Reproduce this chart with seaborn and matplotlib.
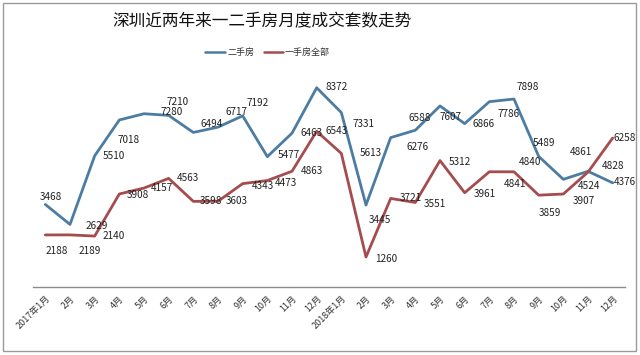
import matplotlib
matplotlib.use("Agg")
import matplotlib.pyplot as plt
import seaborn as sns
import pandas as pd
from matplotlib.patches import Rectangle

months = ["2017年1月", "2月", "3月", "4月", "5月", "6月", "7月", "8月", "9月", "10月", "11月", "12月",
          "2018年1月", "2月", "3月", "4月", "5月", "6月", "7月", "8月", "9月", "10月", "11月", "12月"]
second_hand = [3468, 2629, 5510, 7018, 7280, 7210, 6494, 6717, 7192, 5477, 6463, 8372,
               7331, 3445, 6276, 6588, 7607, 6866, 7786, 7898, 5489, 4524, 4861, 4376]
new_all = [2188, 2189, 2140, 3908, 4157, 4563, 3598, 3603, 4343, 4473, 4863, 6543,
           5613, 1260, 3721, 3551, 5312, 3961, 4841, 4840, 3859, 3907, 4828, 6258]
series_names = ["二手房", "一手房全部"]

# label offsets in pixels (dx, dy up)
blue_off = [(6, 7), (27, -2), (19, 0), (9, -20), (28, 2), (9, 13), (18, 8), (19, 15), (15, 13), (21, 2),
            (20, 0), (20, 1), (22, -11), (14, -15), (27, -9), (4, 12), (11, -11), (19, 0), (19, -12),
            (14, 12), (5, 13), (26, -7), (-7, 19), (12, 1)]
red_off = [(11, -16), (20, -16), (19, 0), (19, -1), (18, 0), (19, 0), (18, 0), (19, 0), (20, -2), (19, -2),
           (20, 0), (20, 0), (29, 0), (20, -2), (20, 0), (20, -2), (20, -1), (20, -1), (26, -12),
           (16, 10), (11, -18), (20, -7), (25, 6), (12, 0)]

sns.set_style("white")
plt.rcParams["font.family"] = ["Noto Sans CJK SC", "DejaVu Sans"]

df = pd.DataFrame({
    "x": list(range(len(months))) * 2,
    "v": second_hand + new_all,
    "s": [series_names[0]] * len(months) + [series_names[1]] * len(months),
})
colors = {"二手房": "#4D7CA3", "一手房全部": "#A54C4E"}

fig = plt.figure(figsize=(6.4, 3.55), dpi=100)
ax = fig.add_axes([33 / 640, 68 / 355, 592 / 640, 238 / 355])
sns.lineplot(data=df, x="x", y="v", hue="s", palette=colors, linewidth=2.0, ax=ax, legend=False)

ax.set_xlim(-0.5, len(months) - 0.5)
ax.set_ylim(0, 10000)
ax.set_xlabel("")
ax.set_ylabel("")
ax.set_yticks([])
ax.set_xticks(range(len(months)))
ax.set_xticklabels(months, rotation=45, ha="right", rotation_mode="anchor", fontsize=6.5, color="#333333")
ax.tick_params(axis="x", length=0, pad=5)
for sp in ["top", "right", "left"]:
    ax.spines[sp].set_visible(False)
ax.spines["bottom"].set_color("#8c8c8c")
ax.spines["bottom"].set_linewidth(1)

for i, v in enumerate(second_hand):
    ax.annotate(str(v), (i, v), xytext=blue_off[i], textcoords="offset pixels",
                ha="center", va="center", fontsize=7.2, color="#222222")
for i, v in enumerate(new_all):
    ax.annotate(str(v), (i, v), xytext=red_off[i], textcoords="offset pixels",
                ha="center", va="center", fontsize=7.2, color="#222222")

fig.text(262 / 640, 1 - 22 / 355, "深圳近两年来一二手房月度成交套数走势", ha="center", va="center",
         fontsize=12, color="#111111")

# legend
ly = 1 - 52 / 355
fig.lines.append(plt.Line2D([205 / 640, 225 / 640], [ly, ly], transform=fig.transFigure,
                            color=colors["二手房"], lw=1.8))
fig.text(228 / 640, ly, "二手房", ha="left", va="center", fontsize=6.5, color="#333333")
fig.lines.append(plt.Line2D([264 / 640, 283 / 640], [ly, ly], transform=fig.transFigure,
                            color=colors["一手房全部"], lw=1.8))
fig.text(285 / 640, ly, "一手房全部", ha="left", va="center", fontsize=6.5, color="#333333")

fig.patches.append(Rectangle((3 / 640, 4 / 355), 633 / 640, 348 / 355, transform=fig.transFigure,
                             fill=False, edgecolor="#9a9a9a", lw=1))

fig.savefig("out.png", dpi=100)
